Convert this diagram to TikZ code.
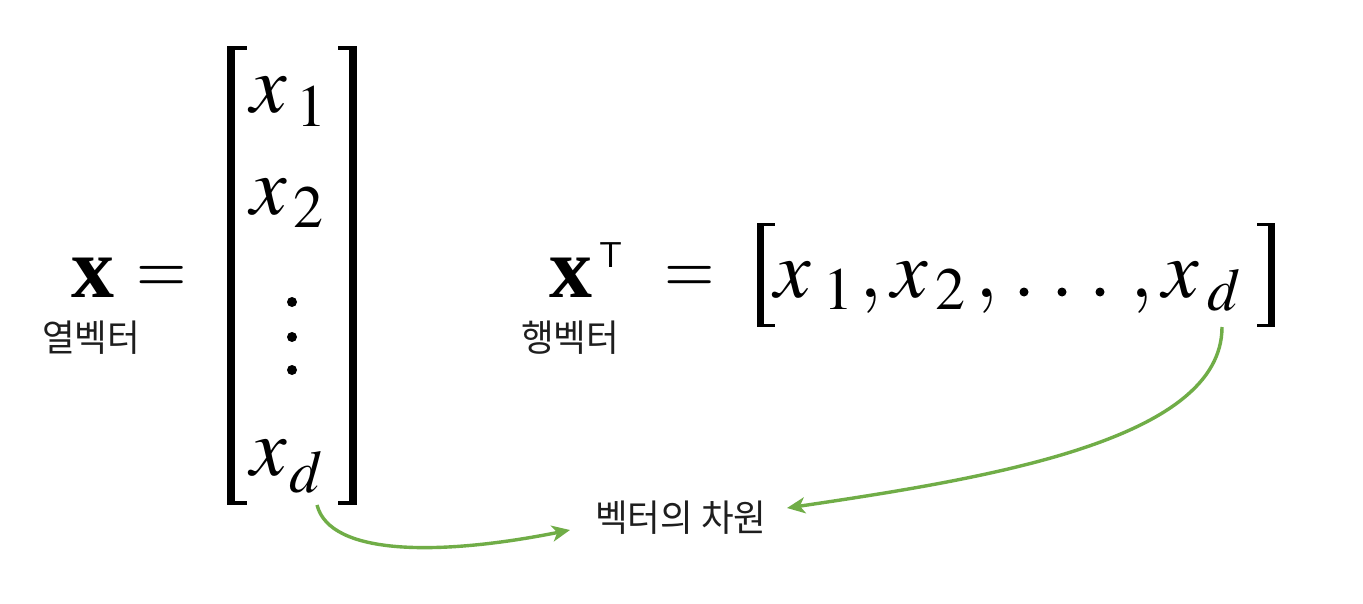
\documentclass[tikz,border=0pt]{standalone}
\usepackage{mathptmx}
\usepackage{fontspec}
\setmainfont{Liberation Serif}
\newfontfamily\kr{Noto Sans CJK KR}[FakeStretch=0.96]
\usetikzlibrary{arrows.meta}
\definecolor{arrowgreen}{RGB}{112,173,71}
\definecolor{labeltext}{RGB}{30,30,30}
\newcommand{\eqsign}{\scalebox{0.79}[0.9]{$=$}}
\tikzset{
  mv/.style={inner sep=0pt, anchor=base west, font=\fontsize{82}{82}\selectfont},
  sb/.style={inner sep=0pt, anchor=base west, font=\fontsize{60}{60}\selectfont},
  bx/.style={inner sep=0pt, anchor=base west, font=\fontsize{86}{86}\selectfont\bfseries},
  mdot/.style={fill=black, draw=none},
  kor/.style={inner sep=0pt, anchor=base west, font=\kr\fontsize{37}{37}\selectfont, text=labeltext},
  brk/.style={fill=black, draw=none},
  arr/.style={draw=arrowgreen, line width=3.4pt, -{Stealth[length=18pt,width=16pt,inset=5pt]}}
}
\begin{document}
\begin{tikzpicture}[x=1pt,y=-1pt]
\useasboundingbox[fill=white] (0,0) rectangle (1363,604);
% ---- column vector ----
\node[bx] (bx1) at (71,298) {x};
\node[mv] (eq1) at (136,293) {\eqsign};
\fill[brk] (227,46) rectangle (235,505);
\fill[brk] (227,46) rectangle (247,50);
\fill[brk] (227,501) rectangle (247,505);
\fill[brk] (349,46) rectangle (357,505);
\fill[brk] (338,46) rectangle (357,50);
\fill[brk] (338,501) rectangle (357,505);
\node[mv] (c1) at (250,113) {$x$};
\node[sb] (c1s) at (296,127) {$1$};
\node[mv] (c2) at (250,215) {$x$};
\node[sb] (c2s) at (293,228) {$2$};
\fill[mdot] (292,302) circle (5);
\fill[mdot] (292,337) circle (5);
\fill[mdot] (292,370) circle (5);
\node[mv] (cd) at (250,475) {$x$};
\node[sb] (cds) at (289,492) {$d$};
\node[kor] (col) at (42,351) {열벡터};
% ---- row vector ----
\node[bx] (bx2) at (549,298) {x};
\node[inner sep=0pt, anchor=base west, font=\sffamily\fontsize{36}{36}\selectfont] (T) at (599,267) {T};
\node[mv] (eq2) at (664,293) {\eqsign};
\fill[brk] (757,223) rectangle (764,327);
\fill[brk] (757,223) rectangle (775,226);
\fill[brk] (757,324) rectangle (775,327);
\fill[brk] (1268,223) rectangle (1275,327);
\fill[brk] (1257,223) rectangle (1275,226);
\fill[brk] (1257,324) rectangle (1275,327);
\node[mv] (r1) at (774,297) {$x$};
\node[sb] (r1s) at (823,309) {$1$};
\node[mv] (cm1) at (859,297) {$,$};
\node[mv] (r2) at (891,297) {$x$};
\node[sb] (r2s) at (935,309) {$2$};
\node[mv] (cm2) at (975,297) {$,$};
\fill[mdot] (1024,292) circle (4.5);
\fill[mdot] (1062,292) circle (4.5);
\fill[mdot] (1100,292) circle (4.5);
\node[mv] (cm3) at (1130,297) {$,$};
\node[mv] (rd) at (1162,297) {$x$};
\node[sb] (rds) at (1207,310) {$d$};
\node[kor] (row) at (521,351) {행벡터};
% ---- dimension label and arrows ----
\node[kor] (dim) at (595,531) {벡터의 차원};
\coordinate (a1s) at (317,505);
\coordinate (a1e) at (570,530);
\coordinate (a2s) at (1222,327);
\coordinate (a2e) at (787,508);
\draw[arr] (a1s) .. controls (330,556) and (440,556) .. (a1e);
\draw[arr] (a2s) .. controls (1222,440) and (990,478) .. (a2e);
\end{tikzpicture}
\end{document}
